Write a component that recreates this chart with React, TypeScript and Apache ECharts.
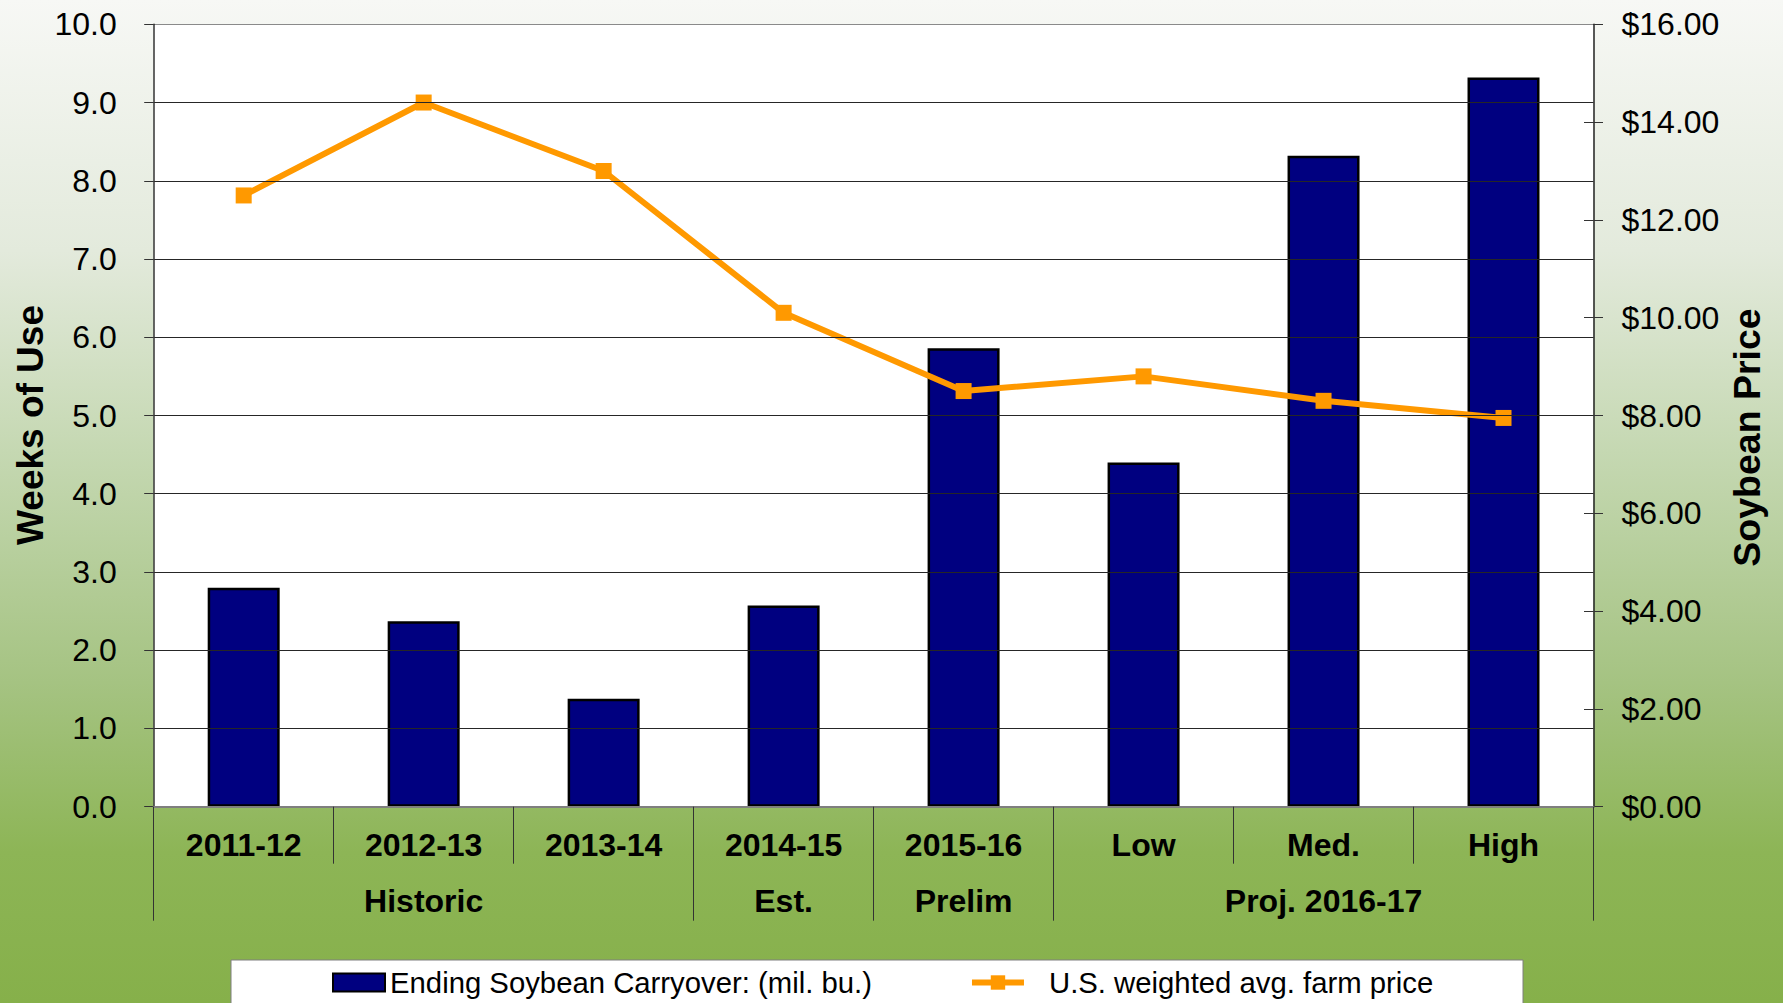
import React, { useEffect, useRef } from "react";
import * as echarts from "echarts";

const categories = ["2011-12", "2012-13", "2013-14", "2014-15", "2015-16", "Low", "Med.", "High"];
const groupLabels = ["Historic", "Est.", "Prelim", "Proj. 2016-17"];
const groupSpans = [3, 1, 1, 3];
const carryoverWeeks = [2.8, 2.37, 1.38, 2.57, 5.86, 4.4, 8.32, 9.32];
const farmPrice = [12.5, 14.4, 13.0, 10.1, 8.5, 8.8, 8.3, 7.95];
const barName = "Ending Soybean Carryover: (mil. bu.)";
const lineName = "U.S. weighted avg. farm price";
const leftTitle = "Weeks of Use";
const rightTitle = "Soybean Price";

const FONT = '"Liberation Sans", Arial, Helvetica, sans-serif';

export default function App() {
  const ref = useRef<HTMLDivElement>(null);

  useEffect(() => {
    document.body.style.margin = "0";
    if (!ref.current) return;
    const chart = echarts.init(ref.current, undefined, { renderer: "svg" });

    const bounds: number[] = [0];
    const centers: number[] = [];
    let acc = 0;
    groupSpans.forEach((s) => {
      centers.push(acc + s / 2);
      acc += s;
      bounds.push(acc);
    });

    const splitColors = Array.from({ length: 11 }, (_, i) => (i === 10 ? "#8a8a8a" : "#262626"));

    chart.setOption({
      animation: false,
      textStyle: { fontFamily: FONT },
      grid: {
        left: 153.7,
        right: 189.5,
        top: 24.3,
        bottom: 196.3,
        show: true,
        backgroundColor: "#ffffff",
        borderWidth: 0,
      },
      legend: {
        left: 332,
        top: 968,
        padding: 0,
        itemWidth: 52,
        itemHeight: 18,
        itemGap: 97,
        textStyle: { fontSize: 29.3, color: "#000", fontFamily: FONT },
        data: [
          { name: barName, icon: "rect" },
          {
            name: lineName,
            textStyle: { padding: [0, 0, 0, 20] },
            lineStyle: { width: 6, color: "#FF9900" },
          },
        ],
      },
      graphic: [
        {
          type: "rect",
          z: -1,
          shape: { x: 231, y: 960, width: 1292, height: 80 },
          style: { fill: "#ffffff", stroke: "#7f7f7f", lineWidth: 1 },
        },
        {
          type: "text",
          x: 30,
          y: 425,
          rotation: Math.PI / 2,
          style: {
            text: leftTitle,
            fontSize: 37,
            fontWeight: "bold",
            fontFamily: FONT,
            fill: "#000",
            align: "center",
            verticalAlign: "middle",
          },
        },
        {
          type: "text",
          x: 1747,
          y: 437.5,
          rotation: Math.PI / 2,
          style: {
            text: rightTitle,
            fontSize: 37.5,
            fontWeight: "bold",
            fontFamily: FONT,
            fill: "#000",
            align: "center",
            verticalAlign: "middle",
          },
        },
      ],
      xAxis: [
        {
          type: "category",
          data: categories,
          position: "bottom",
          axisLine: { show: true, lineStyle: { color: "#7f7f7f", width: 2 } },
          axisTick: { show: true, interval: 0, length: 57, lineStyle: { color: "#333", width: 1 } },
          axisLabel: {
            interval: 0,
            margin: 22.5,
            fontSize: 32,
            fontWeight: "bold",
            color: "#000",
            fontFamily: FONT,
          },
          splitLine: { show: false },
          z: 5,
        },
        {
          type: "value",
          position: "bottom",
          min: 0,
          max: categories.length,
          axisLine: { show: false },
          axisTick: {
            show: true,
            customValues: bounds,
            length: 114,
            lineStyle: { color: "#333", width: 1 },
          },
          axisLabel: {
            show: true,
            customValues: centers,
            margin: 78.5,
            fontSize: 32,
            fontWeight: "bold",
            color: "#000",
            fontFamily: FONT,
            formatter: (v: number) => {
              const idx = centers.findIndex((c) => Math.abs(c - v) < 1e-6);
              return idx >= 0 ? groupLabels[idx] : "";
            },
          },
          splitLine: { show: false },
        },
      ],
      yAxis: [
        {
          type: "value",
          position: "left",
          min: 0,
          max: 10,
          interval: 1,
          axisLine: { show: true, lineStyle: { color: "#333", width: 1.5 } },
          axisTick: { show: true, length: 9.5, lineStyle: { color: "#333", width: 1 } },
          axisLabel: {
            margin: 37,
            fontSize: 32,
            color: "#000",
            fontFamily: FONT,
            formatter: (v: number) => v.toFixed(1),
          },
          splitLine: { show: true, lineStyle: { color: splitColors, width: 1 } },
          z: 4,
        },
        {
          type: "value",
          position: "right",
          min: 0,
          max: 16,
          interval: 2,
          axisLine: { show: true, lineStyle: { color: "#222", width: 1.5 } },
          axisTick: { show: true, length: 9.5, lineStyle: { color: "#333", width: 1 } },
          axisLabel: {
            margin: 28,
            fontSize: 32,
            color: "#000",
            fontFamily: FONT,
            formatter: (v: number) => "$" + v.toFixed(2),
          },
          splitLine: { show: false },
          z: 4,
        },
        {
          type: "value",
          position: "right",
          min: 0,
          max: 16,
          interval: 2,
          axisLine: { show: false },
          axisTick: { show: true, inside: true, length: 9.5, lineStyle: { color: "#333", width: 1 } },
          axisLabel: { show: false },
          splitLine: { show: false },
        },
      ],
      series: [
        {
          name: barName,
          type: "bar",
          xAxisIndex: 0,
          yAxisIndex: 0,
          data: carryoverWeeks,
          barWidth: "40%",
          itemStyle: { color: "#000080", borderColor: "#000000", borderWidth: 2.5 },
          z: 2,
        },
        {
          name: lineName,
          type: "line",
          xAxisIndex: 0,
          yAxisIndex: 1,
          data: farmPrice,
          symbol: "rect",
          symbolSize: 16,
          lineStyle: { color: "#FF9900", width: 6 },
          itemStyle: { color: "#FF9900" },
          z: 3,
        },
      ],
    });

    return () => chart.dispose();
  }, []);

  return (
    <div
      ref={ref}
      style={{
        width: 1783,
        height: 1003,
        background:
          "linear-gradient(to bottom, #f7f8f5 0%, #e3eadc 25%, #c5d8b2 45%, #a5c382 68%, #8db556 85%, #86b04a 100%)",
      }}
    />
  );
}
